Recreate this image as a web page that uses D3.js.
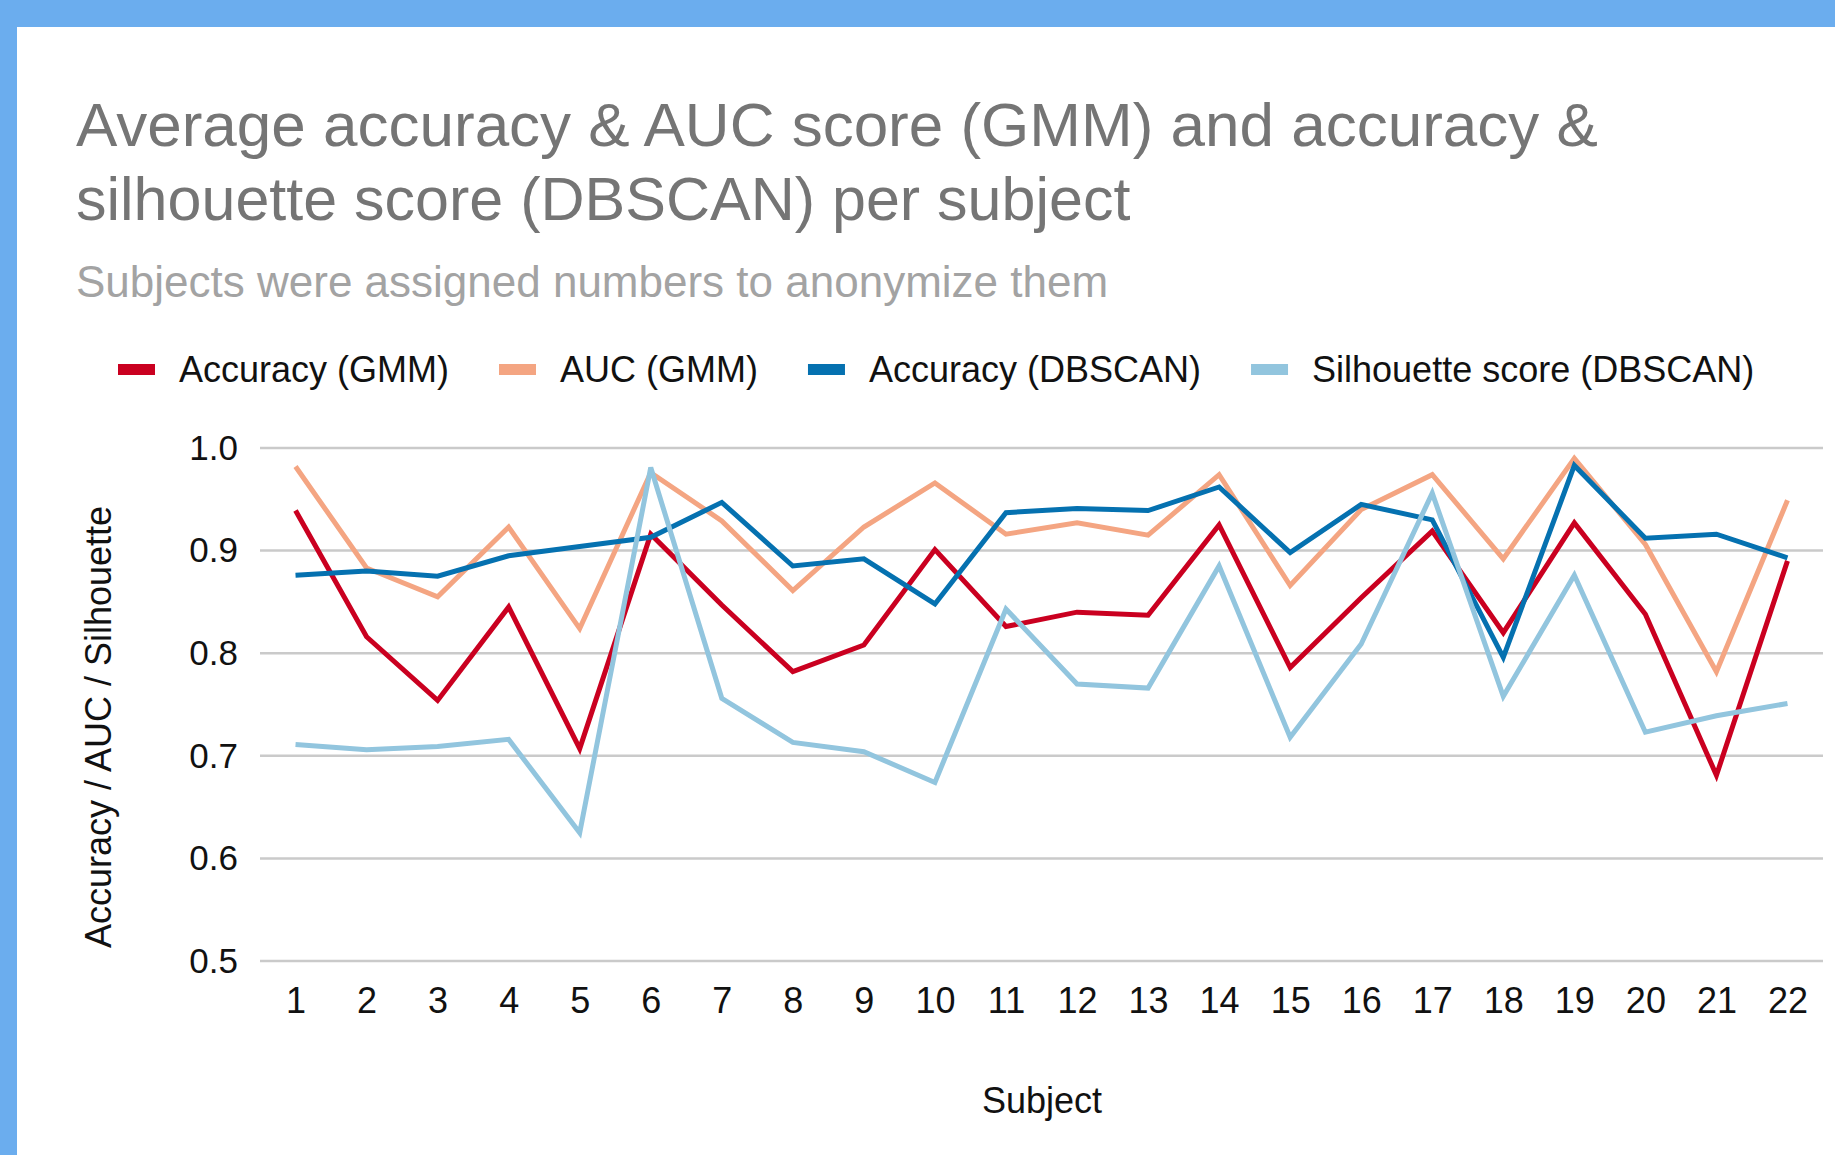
<!DOCTYPE html>
<html>
<head>
	<meta charset="utf-8"/>
	<title>Accuracy / AUC / Silhouette per subject</title>
	<script src="https://cdn.jsdelivr.net/npm/d3@7"></script>
	<style type="text/css">
		body { margin: 0; background: #fff; }
		svg { display: block; font-family: "Liberation Sans", Arial, sans-serif; }
	</style>
</head>
<body>
	<svg id="chart" width="1835" height="1155"></svg>
	<script type="text/javascript">

		var subjects = ["1","2","3","4","5","6","7","8","9","10","11","12","13","14","15","16","17","18","19","20","21","22"];
		var accuracyGMM = [0.939,0.816,0.754,0.845,0.707,0.916,0.847,0.782,0.808,0.901,0.826,0.840,0.837,0.925,0.786,0.854,0.919,0.820,0.927,0.838,0.681,0.890];
		var aucGMM = [0.982,0.883,0.855,0.923,0.824,0.976,0.929,0.861,0.923,0.966,0.916,0.927,0.915,0.974,0.866,0.940,0.974,0.892,0.990,0.906,0.782,0.949];
		var accuracyDBSCAN = [0.876,0.880,0.875,0.895,0.904,0.913,0.947,0.885,0.892,0.848,0.937,0.941,0.939,0.962,0.898,0.945,0.930,0.796,0.983,0.912,0.916,0.893];
		var silhouetteDBSCAN = [0.711,0.706,0.709,0.716,0.625,0.981,0.756,0.713,0.704,0.674,0.843,0.770,0.766,0.885,0.718,0.809,0.956,0.758,0.876,0.723,0.739,0.751];
		var yTicks = [0.5, 0.6, 0.7, 0.8, 0.9, 1.0];

		var series = [
			{name: "Accuracy (GMM)", values: accuracyGMM, color: "#ca0020"},
			{name: "AUC (GMM)", values: aucGMM, color: "#f4a582"},
			{name: "Accuracy (DBSCAN)", values: accuracyDBSCAN, color: "#0571b0"},
			{name: "Silhouette score (DBSCAN)", values: silhouetteDBSCAN, color: "#92c5de"}
		];

		var svg = d3.select("#chart");

		// frame
		svg.append("rect").attr("x", 0).attr("y", 0).attr("width", 1835).attr("height", 27).style("fill", "#6badee");
		svg.append("rect").attr("x", 0).attr("y", 0).attr("width", 17).attr("height", 1155).style("fill", "#6badee");

		// titles
		svg.append("text").attr("x", 76).attr("y", 146)
			.style("font-size", "62px").style("fill", "#757575")
			.text("Average accuracy & AUC score (GMM) and accuracy &");
		svg.append("text").attr("x", 76).attr("y", 220)
			.style("font-size", "61px").style("fill", "#757575")
			.text("silhouette score (DBSCAN) per subject");
		svg.append("text").attr("x", 76).attr("y", 297)
			.style("font-size", "44px").style("fill", "#a3a3a3")
			.text("Subjects were assigned numbers to anonymize them");

		// legend
		var lx = 118;
		series.forEach(function(s) {
			svg.append("rect").attr("x", lx).attr("y", 364).attr("width", 37).attr("height", 11)
				.style("fill", s.color);
			var t = svg.append("text").attr("x", lx + 61).attr("y", 382)
				.style("font-size", "36px").style("fill", "#111")
				.text(s.name);
			lx = lx + 61 + t.node().getComputedTextLength() + 50;
		});

		var x = d3.scalePoint().domain(subjects).range([260, 1823]).padding(0.5);
		var y = d3.scaleLinear().domain([0.5, 1.0]).range([961, 448]);

		// gridlines
		svg.append("g").selectAll("line").data(yTicks).enter()
			.append("line")
			.attr("x1", 260).attr("x2", 1823)
			.attr("y1", function(d) { return y(d); })
			.attr("y2", function(d) { return y(d); })
			.style("stroke", "#cacaca").style("stroke-width", 2.5);

		// y axis
		var yAxis = svg.append("g").attr("transform", "translate(238,0)")
			.call(d3.axisLeft(y).tickValues(yTicks).tickFormat(d3.format(".1f")).tickSize(0).tickPadding(0));
		yAxis.select(".domain").remove();
		yAxis.selectAll("text").style("font-size", "35px").style("fill", "#111")
			.style("font-family", "Liberation Sans, Arial, sans-serif");

		// x axis
		var xAxis = svg.append("g").attr("transform", "translate(0,987)")
			.call(d3.axisBottom(x).tickSize(0).tickPadding(0));
		xAxis.select(".domain").remove();
		xAxis.selectAll("text").style("font-size", "36px").style("fill", "#111")
			.style("font-family", "Liberation Sans, Arial, sans-serif");

		// axis titles
		svg.append("text").attr("x", 1042).attr("y", 1113)
			.style("text-anchor", "middle").style("font-size", "36px").style("fill", "#111")
			.text("Subject");
		svg.append("text").attr("transform", "translate(111,727) rotate(-90)")
			.style("text-anchor", "middle").style("font-size", "36px").style("fill", "#111")
			.text("Accuracy / AUC / Silhouette");

		// lines
		var line = d3.line()
			.x(function(d, i) { return x(subjects[i]); })
			.y(function(d) { return y(d); });

		svg.append("g").selectAll("path").data(series).enter()
			.append("path")
			.attr("d", function(s) { return line(s.values); })
			.style("fill", "none")
			.style("stroke", function(s) { return s.color; })
			.style("stroke-width", 5)
			.style("stroke-linejoin", "miter");

	</script>
</body>
</html>
